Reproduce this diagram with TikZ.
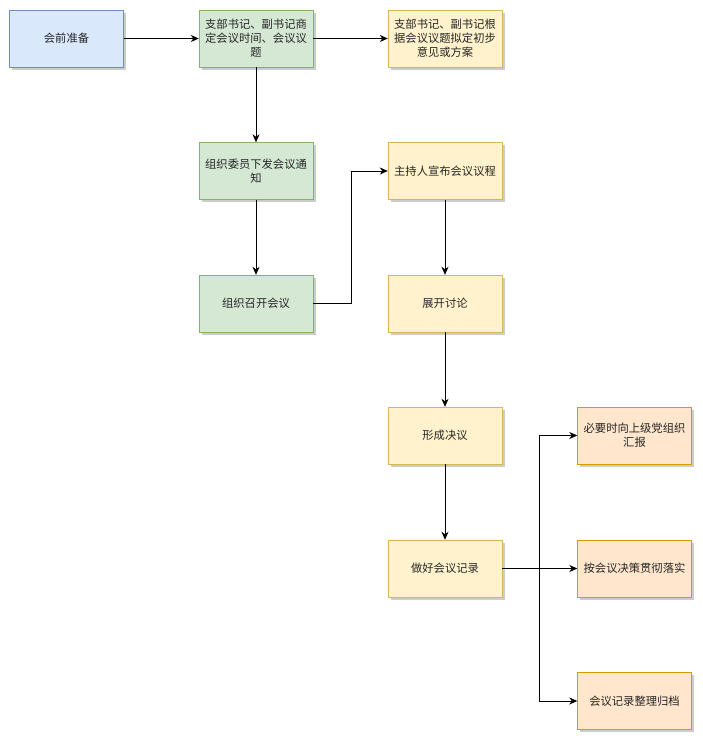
\documentclass[tikz,border=0pt]{standalone}
\usepackage{fontspec}
\setmainfont{Noto Sans CJK SC}
\usetikzlibrary{arrows.meta,shadows}
\definecolor{bfill}{HTML}{DAE8FC}\definecolor{bdraw}{HTML}{6C8EBF}
\definecolor{gfill}{HTML}{D5E8D4}\definecolor{gdraw}{HTML}{82B366}
\definecolor{yfill}{HTML}{FFF2CC}\definecolor{ydraw}{HTML}{D6B656}
\definecolor{ofill}{HTML}{FFE6CC}\definecolor{odraw}{HTML}{D79B00}
\tikzset{
  box/.style={rectangle, minimum width=114pt, minimum height=57pt, inner sep=2pt,
    align=center, font=\fontsize{11.3}{14}\selectfont, text=black!85,
    drop shadow={shadow xshift=2.5pt, shadow yshift=-2.5pt, opacity=0.2, fill=black}},
  bluebox/.style={box, fill=bfill, draw=bdraw},
  greenbox/.style={box, fill=gfill, draw=gdraw},
  yellowbox/.style={box, fill=yfill, draw=ydraw},
  orangebox/.style={box, fill=ofill, draw=odraw},
  conn/.style={draw=black, line width=0.8pt, -{Stealth[length=8pt,width=7pt,inset=2.5pt]}}
}
\begin{document}
\begin{tikzpicture}[x=1pt,y=-1pt]
\useasboundingbox[fill=white] (0,0) rectangle (703,742);
\node[bluebox] (n1) at (66.5,38.5) {会前准备};
\node[greenbox] (n2) at (256,38.5) {支部书记、副书记商\\定会议时间、会议议\\题};
\node[yellowbox] (n3) at (445,38.5) {支部书记、副书记根\\据会议议题拟定初步\\意见或方案};
\node[greenbox] (n4) at (256,171) {组织委员下发会议通\\知};
\node[greenbox] (n5) at (256,303.5) {组织召开会议};
\node[yellowbox] (n6) at (445,171) {主持人宣布会议议程};
\node[yellowbox] (n7) at (445,303.5) {展开讨论};
\node[yellowbox] (n8) at (445,435.5) {形成决议};
\node[yellowbox] (n9) at (445,568.5) {做好会议记录};
\node[orangebox] (n10) at (634.5,435.5) {必要时向上级党组织\\汇报};
\node[orangebox] (n11) at (634.5,568.5) {按会议决策贯彻落实};
\node[orangebox] (n12) at (634.5,701) {会议记录整理归档};
\coordinate (j1) at (351,303.5);
\coordinate (j2) at (539,568.5);
\draw[conn] (n1) -- (n2);
\draw[conn] (n2) -- (n3);
\draw[conn] (n2) -- (n4);
\draw[conn] (n4) -- (n5);
\draw[conn] (n5.east) -- (j1) |- (n6.west);
\draw[conn] (n6) -- (n7);
\draw[conn] (n7) -- (n8);
\draw[conn] (n8) -- (n9);
\draw[conn] (n9.east) -- (j2) |- (n10.west);
\draw[conn] (j2) -- (n11.west);
\draw[conn] (j2) |- (n12.west);
\end{tikzpicture}
\end{document}
